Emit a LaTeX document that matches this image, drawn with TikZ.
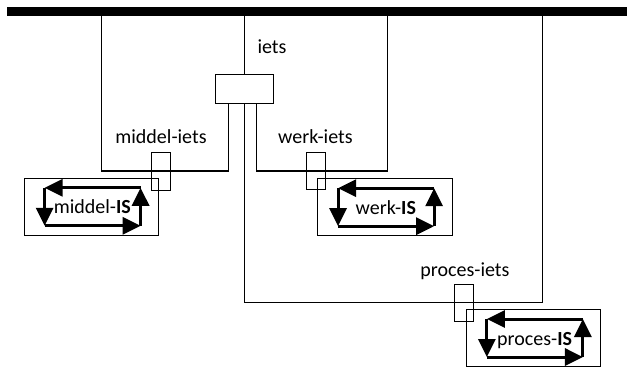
\documentclass[tikz,border=0pt]{standalone}
\usepackage{fontspec}
\setmainfont{Carlito}
\usetikzlibrary{arrows.meta}
\begin{document}
\begin{tikzpicture}[x=1pt,y=-1pt,
  wire/.style={line width=1.1pt},
  busbar/.style={fill=black, draw=none, inner sep=0pt, minimum width=620.3pt, minimum height=9pt},
  hubbox/.style={draw, line width=1.1pt, fill=white, inner sep=0pt, minimum width=57.6pt, minimum height=29pt},
  portbox/.style={draw, line width=1.1pt, inner sep=0pt, minimum width=19pt, minimum height=37.5pt},
  isbox/.style={draw, line width=1.1pt, inner sep=0pt, minimum width=134.5pt, minimum height=56.5pt},
  lbl/.style={font=\fontsize{20}{24}\selectfont, inner sep=0pt, anchor=base},
  loopline/.style={line width=3pt, -{Triangle[length=18pt,width=17pt]}},
  isloop/.pic={
    \coordinate (-tl) at (-46.75,-19);
    \coordinate (-tr) at (49.25,-19);
    \coordinate (-bl) at (-46.75,19);
    \coordinate (-br) at (49.25,19);
    \draw[loopline] (-tr) -- (-tl);
    \draw[loopline] (-tl) -- (-bl);
    \draw[loopline] (-bl) -- (-br);
    \draw[loopline] (-br) -- (-tr);
    \node[lbl] (-txt) at (1,7) {#1};
  }]
\useasboundingbox (0,0) rectangle (627,367);

% bus and hub
\node[busbar] (bar) at (316.85,11.5) {};
\node[hubbox] (hub) at (244.5,88.8) {};

% labels
\node[lbl] (tiets) at (272,53) {iets};
\node[lbl] (tmid) at (161,143) {middel-iets};
\node[lbl] (twerk) at (315.4,143) {werk-iets};
\node[lbl] (tproc) at (465,276) {proces-iets};

% wire corners
\coordinate (mA) at (101.7,171);
\coordinate (mB) at (228.7,171);
\coordinate (wA) at (256.7,171);
\coordinate (wB) at (387.3,171);
\coordinate (pA) at (244.5,302.7);
\coordinate (pB) at (542.3,302.7);

\draw[wire] (hub.north) -- (hub.north |- bar.south);
\draw[wire] (mA |- bar.south) -- (mA) -- (mB) -- (mB |- hub.south);
\draw[wire] (wA |- hub.south) -- (wA) -- (wB) -- (wB |- bar.south);
\draw[wire] (hub.south) -- (pA) -- (pB) -- (pB |- bar.south);

% IS boxes with loops
\node[isbox] (mIS) at (91.35,206.8) {};
\pic (mL) at (mIS.center) {isloop={middel-\textbf{IS}}};
\node[isbox] (wIS) at (384.85,207.15) {};
\pic (wL) at (wIS.center) {isloop={werk-\textbf{IS}}};
\node[isbox] (pIS) at (533.65,338) {};
\pic (pL) at (pIS.center) {isloop={proces-\textbf{IS}}};

% port boxes
\node[portbox] (mP) at (161.2,171.35) {};
\node[portbox] (wP) at (316,171.15) {};
\node[portbox] (pP) at (464.15,303.15) {};
\end{tikzpicture}
\end{document}
